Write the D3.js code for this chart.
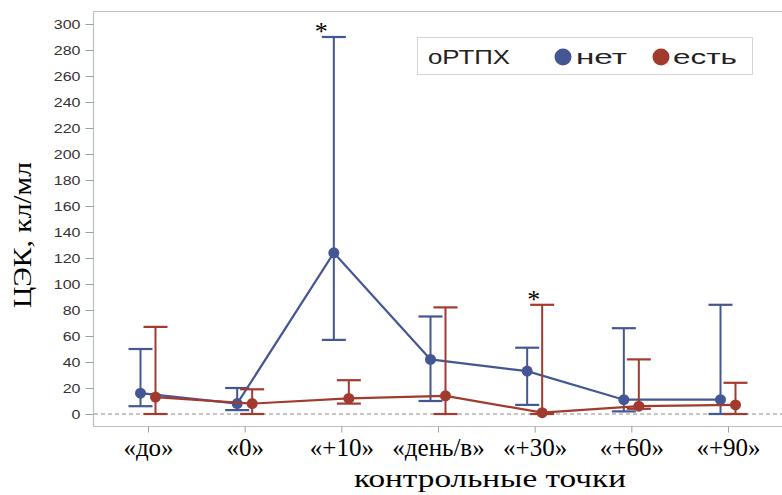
<!DOCTYPE html>
<html><head><meta charset="utf-8">
<script src="https://cdn.jsdelivr.net/npm/d3@7"></script>
<style>body{margin:0;background:#fff}svg{display:block}</style>
</head><body>
<svg id="c" width="782" height="495"></svg>
<script>
const categories = ["«до»","«0»","«+10»","«день/в»","«+30»","«+60»","«+90»"];
const seriesNames = ["нет","есть"];
const netMean  = [16, 8, 124, 42, 33, 11, 11];
const netLow   = [6, 3, 57, 10, 7, 2, 0];
const netHigh  = [50, 20, 290, 75, 51, 66, 84];
const estMean  = [13, 8, 12, 14, 1, 6, 7];
const estLow   = [0, 0, 8, 0, 0, 4, 0];
const estHigh  = [67, 19, 26, 82, 84, 42, 24];
const yTicks   = [0,20,40,60,80,100,120,140,160,180,200,220,240,260,280,300];
const marks    = [{cat:"«+10»", value:290, dx:-20}, {cat:"«+30»", value:84, dx:-1}];
const legendTitle = "оРТПХ";
const yTitle = "ЦЭК, кл/мл";
const xTitle = "контрольные точки";

const colors = ["#445694", "#A23A2E"];
const svg = d3.select("#c");
const L = 93, T = 11.5, B = 426.5, R = 782;
const y = d3.scaleLinear().domain([0,300]).range([414,24]);
const x = d3.scalePoint().domain(categories).range([148,728]);
const offs = [-7.5, 7.5];

// frame (left, top, bottom; right side lies outside the picture)
const fr = svg.append("g").attr("stroke","#b9c0c4").attr("stroke-width",1.2);
fr.append("line").attr("x1",L+0.5).attr("x2",L+0.5).attr("y1",T).attr("y2",B);
fr.append("line").attr("x1",L+0.5).attr("x2",R).attr("y1",T).attr("y2",T);
fr.append("line").attr("x1",L+0.5).attr("x2",R).attr("y1",B).attr("y2",B);

// y axis
const ya = svg.append("g").attr("transform",`translate(${L+0.5},0)`)
  .call(d3.axisLeft(y).tickValues(yTicks).tickSize(8).tickPadding(5));
ya.select(".domain").remove();
ya.selectAll("line").attr("stroke","#9aa0a4");
ya.selectAll("text").attr("font-family","Liberation Sans, Arial, sans-serif")
  .attr("font-size",13).attr("fill","#333")
  .each(function(d){ const n = String(d).length; d3.select(this).attr("textLength", n*8.9).attr("lengthAdjust","spacingAndGlyphs"); });

// x axis
const xa = svg.append("g").attr("transform",`translate(0,${B})`)
  .call(d3.axisBottom(x).tickSize(6).tickPadding(16));
xa.select(".domain").remove();
xa.selectAll("line").attr("stroke","#9aa0a4");
xa.selectAll("text").attr("font-family","Liberation Serif, Times New Roman, serif")
  .attr("font-size",25).attr("fill","#000").attr("dy","0.3em");

// zero reference
svg.append("line").attr("x1",L+1).attr("x2",R).attr("y1",y(0)).attr("y2",y(0))
  .attr("stroke","#8a8a8a").attr("stroke-dasharray","4,3").attr("stroke-width",1);

const series = [
  {name:seriesNames[0], mean:netMean, low:netLow, high:netHigh},
  {name:seriesNames[1], mean:estMean, low:estLow, high:estHigh}
];

series.forEach((s,si)=>{
  const g = svg.append("g").attr("stroke",colors[si]).attr("fill",colors[si]);
  const px = (i)=> x(categories[i]) + offs[si];
  categories.forEach((c,i)=>{
    g.append("line").attr("x1",px(i)).attr("x2",px(i)).attr("y1",y(s.low[i])).attr("y2",y(s.high[i])).attr("stroke-width",2);
    [s.low[i], s.high[i]].forEach(v=>{
      g.append("line").attr("x1",px(i)-12).attr("x2",px(i)+12).attr("y1",y(v)).attr("y2",y(v)).attr("stroke-width",2.2);
    });
  });
  const line = d3.line().x((d,i)=>px(i)).y(d=>y(d));
  g.append("path").attr("d",line(s.mean)).attr("fill","none").attr("stroke-width",2.2);
  g.selectAll("circle").data(s.mean).join("circle").attr("cx",(d,i)=>px(i)).attr("cy",d=>y(d)).attr("r",5.5).attr("stroke","none");
});

// asterisks
marks.forEach(m=>{
  svg.append("text").attr("x",x(m.cat)+m.dx).attr("y",y(m.value)+3)
    .attr("text-anchor","middle").attr("font-family","Liberation Serif, serif").attr("font-size",26).text("*");
});

// legend
const lg = svg.append("g");
lg.append("rect").attr("x",417.5).attr("y",37.5).attr("width",335).attr("height",37).attr("fill","#fff").attr("stroke","#d4d4d4");
lg.append("text").attr("x",428).attr("y",64).attr("font-family","Liberation Sans, Arial, sans-serif").attr("font-size",21).attr("fill","#222")
  .attr("textLength",82).attr("lengthAdjust","spacingAndGlyphs").text(legendTitle);
const lx = [563, 661], tx = [576, 673], tl=[51,64];
seriesNames.forEach((n,i)=>{
  lg.append("circle").attr("cx",lx[i]).attr("cy",57).attr("r",8.5).attr("fill",colors[i]);
  lg.append("text").attr("x",tx[i]).attr("y",64).attr("font-family","Liberation Sans, Arial, sans-serif").attr("font-size",21).attr("fill","#222")
    .attr("textLength",tl[i]).attr("lengthAdjust","spacingAndGlyphs").text(n);
});

// titles
svg.append("text").attr("transform","translate(31,235) rotate(-90)").attr("text-anchor","middle")
  .attr("font-family","Liberation Serif, Times New Roman, serif").attr("font-size",26)
  .attr("textLength",146).attr("lengthAdjust","spacingAndGlyphs").text(yTitle);
svg.append("text").attr("x",490).attr("y",487).attr("text-anchor","middle")
  .attr("font-family","Liberation Serif, Times New Roman, serif").attr("font-size",26)
  .attr("textLength",272).attr("lengthAdjust","spacingAndGlyphs").text(xTitle);
</script>
</body></html>
